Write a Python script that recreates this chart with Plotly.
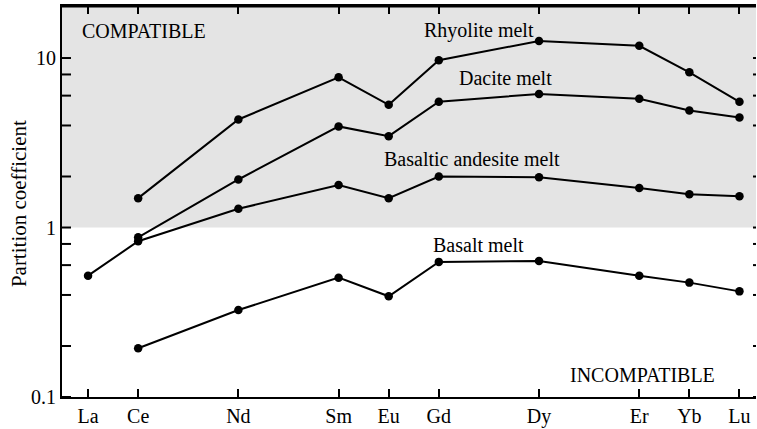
import plotly.graph_objects as go

# Rare earth elements, plotted at relative positions along the series
elements = ["La", "Ce", "Nd", "Sm", "Eu", "Gd", "Dy", "Er", "Yb", "Lu"]
element_pos = [0, 1, 3, 5, 6, 7, 9, 11, 12, 13]

# Partition coefficients by melt composition (None = not measured)
rhyolite = [None, 1.49, 4.34, 7.7, 5.3, 9.7, 12.6, 11.8, 8.24, 5.52]
dacite = [None, 0.875, 1.92, 3.95, 3.46, 5.52, 6.14, 5.75, 4.9, 4.46]
basaltic_andesite = [0.52, 0.83, 1.29, 1.78, 1.49, 2.0, 1.98, 1.71, 1.57, 1.53]
basalt = [None, 0.194, 0.326, 0.506, 0.393, 0.627, 0.635, 0.52, 0.473, 0.42]

series = [
    ("Rhyolite melt", rhyolite),
    ("Dacite melt", dacite),
    ("Basaltic andesite melt", basaltic_andesite),
    ("Basalt melt", basalt),
]

y_major = [0.1, 1, 10]
y_major_text = ["0.1", "1", "10"]
y_tick_marks = [0.1, 0.2, 0.4, 0.6, 0.8, 1, 2, 4, 6, 8, 10]

FONT = "Liberation Serif, Times New Roman, serif"
x_range = [-0.52, 13.33]
y_range_log = [-1, 1.307]

fig = go.Figure()

# Shaded compatible field (D > 1)
fig.add_shape(
    type="rect", xref="x", yref="y",
    x0=x_range[0], x1=x_range[1], y0=1, y1=10 ** y_range_log[1],
    fillcolor="#e4e4e4", line=dict(width=0), layer="below",
)

# Inward tick marks on the left (and short stubs on the right) edge
for v in y_tick_marks:
    fig.add_shape(
        type="line", xref="paper", yref="y", xsizemode="pixel", xanchor=0,
        x0=0, x1=9, y0=v, y1=v, line=dict(color="black", width=2),
        layer="above",
    )
    fig.add_shape(
        type="line", xref="paper", yref="y", xsizemode="pixel", xanchor=1,
        x0=-3, x1=0, y0=v, y1=v, line=dict(color="black", width=2),
        layer="above",
    )

# Heavier top frame line
fig.add_shape(
    type="line", xref="paper", yref="paper", x0=0, x1=1, y0=1, y1=1,
    line=dict(color="black", width=3), layer="above",
)

for name, vals in series:
    xs = [p for p, v in zip(element_pos, vals) if v is not None]
    ys = [v for v in vals if v is not None]
    fig.add_trace(go.Scatter(
        x=xs, y=ys, name=name, mode="lines+markers",
        line=dict(color="black", width=2),
        marker=dict(color="black", size=8.5),
        showlegend=False, cliponaxis=False,
    ))

labels = [
    ("COMPATIBLE", -0.16, 1.162, "left"),
    ("Rhyolite melt", 7.81, 1.162, "center"),
    ("Dacite melt", 8.33, 0.884, "center"),
    ("Basaltic andesite melt", 7.67, 0.403, "center"),
    ("Basalt melt", 7.79, -0.104, "center"),
    ("INCOMPATIBLE", 11.07, -0.870, "center"),
]
for text, x, ylog, anchor in labels:
    fig.add_annotation(
        x=x, y=ylog, xref="x", yref="y", text=text, showarrow=False,
        xanchor=anchor, yanchor="middle",
        font=dict(family=FONT, size=20, color="black"),
    )

# Axis title
fig.add_annotation(
    x=-0.061, y=0.495, xref="paper", yref="paper", text="Partition coefficient",
    textangle=-90, showarrow=False, xanchor="center", yanchor="middle",
    font=dict(family=FONT, size=21, color="black"),
)

fig.update_layout(
    width=757, height=429,
    margin=dict(l=62, r=1, t=6, b=25),
    paper_bgcolor="white", plot_bgcolor="rgba(0,0,0,0)",
    font=dict(family=FONT, size=20, color="black"),
)
fig.update_xaxes(
    range=x_range, tickmode="array", tickvals=element_pos, ticktext=elements,
    ticks="inside", ticklen=8, tickwidth=2, tickcolor="black",
    showline=True, linecolor="black", linewidth=2, mirror="ticks",
    showgrid=False, zeroline=False,
    tickfont=dict(family=FONT, size=20, color="black"),
)
fig.update_yaxes(
    type="log", range=y_range_log, tickmode="array",
    tickvals=y_major, ticktext=y_major_text, ticks="",
    showline=True, linecolor="black", linewidth=2, mirror=False,
    showgrid=False, zeroline=False,
    tickfont=dict(family=FONT, size=20, color="black"),
)

fig.write_html("out.html")
